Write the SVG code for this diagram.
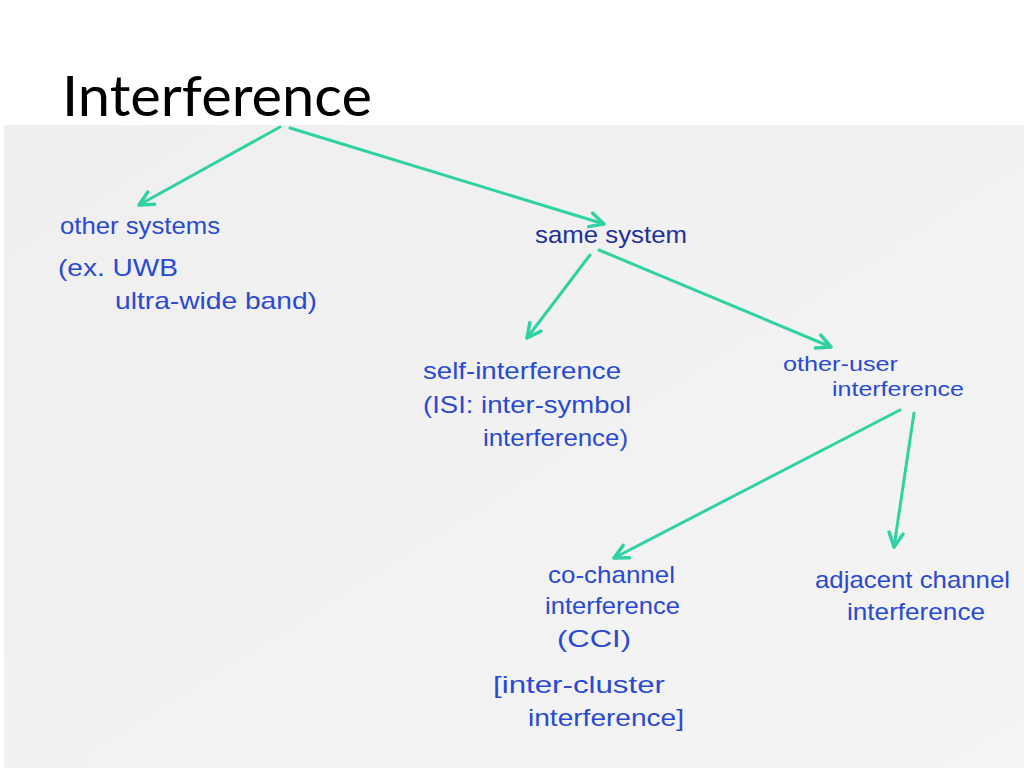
<svg xmlns="http://www.w3.org/2000/svg" width="1024" height="768" viewBox="0 0 1024 768">
<style>
.title{font-family:Lato,"Open Sans","Liberation Sans",sans-serif;font-size:56px;fill:#000}
.hw{font-family:"Liberation Sans","DejaVu Sans",sans-serif;font-size:24px;fill:#2a4ad2}
.sm{font-size:21px}
.dk{fill:#22309a}
.arr{stroke:#30d2a3;stroke-width:3;fill:none;stroke-linecap:round}
</style>
<defs>
<linearGradient id="paper" x1="0" y1="0" x2="1" y2="1">
<stop offset="0" stop-color="#efefef"/>
<stop offset="1" stop-color="#f4f4f4"/>
</linearGradient>
<marker id="ah" viewBox="0 0 20 20" refX="16" refY="10" markerWidth="20" markerHeight="20" markerUnits="userSpaceOnUse" orient="auto">
<path d="M2,3 L16,10 L2,17" fill="none" stroke="#30d2a3" stroke-width="3.5" stroke-linecap="round" stroke-linejoin="round"/>
</marker>
</defs>
<rect x="0" y="0" width="1024" height="768" fill="#ffffff"/>
<rect x="4" y="125" width="1020" height="643" fill="url(#paper)"/>
<text class="title" x="62" y="116" textLength="310" lengthAdjust="spacingAndGlyphs">Interference</text>

<g id="connectors">
<line class="arr" x1="280" y1="127" x2="139" y2="205" marker-end="url(#ah)"/>
<line class="arr" x1="290" y1="128" x2="604" y2="224" marker-end="url(#ah)"/>
<line class="arr" x1="590" y1="255" x2="527" y2="338" marker-end="url(#ah)"/>
<line class="arr" x1="599" y1="250" x2="831" y2="347" marker-end="url(#ah)"/>
<line class="arr" x1="900" y1="410" x2="614" y2="558" marker-end="url(#ah)"/>
<line class="arr" x1="914" y1="413" x2="894" y2="547" marker-end="url(#ah)"/>
</g>

<g id="other-systems">
<text class="hw" x="60" y="234" textLength="160" lengthAdjust="spacingAndGlyphs">other systems</text>
<text class="hw" x="58" y="276" textLength="120" lengthAdjust="spacingAndGlyphs">(ex. UWB</text>
<text class="hw" x="115" y="309" textLength="202" lengthAdjust="spacingAndGlyphs">ultra-wide band)</text>
</g>

<g id="same-system">
<text class="hw dk" x="535" y="243" textLength="152" lengthAdjust="spacingAndGlyphs">same system</text>
</g>

<g id="self-interference">
<text class="hw" x="423" y="379" textLength="198" lengthAdjust="spacingAndGlyphs">self-interference</text>
<text class="hw" x="423" y="413" textLength="208" lengthAdjust="spacingAndGlyphs">(ISI: inter-symbol</text>
<text class="hw" x="483" y="446" textLength="145" lengthAdjust="spacingAndGlyphs">interference)</text>
</g>

<g id="other-user-interference">
<text class="hw sm" x="783" y="371" textLength="115" lengthAdjust="spacingAndGlyphs">other-user</text>
<text class="hw sm" x="832" y="396" textLength="132" lengthAdjust="spacingAndGlyphs">interference</text>
</g>

<g id="co-channel-interference">
<text class="hw" x="548" y="583" textLength="127" lengthAdjust="spacingAndGlyphs">co-channel</text>
<text class="hw" x="545" y="614" textLength="135" lengthAdjust="spacingAndGlyphs">interference</text>
<text class="hw" x="557" y="647" textLength="74" lengthAdjust="spacingAndGlyphs">(CCI)</text>
<text class="hw" x="493" y="693" textLength="172" lengthAdjust="spacingAndGlyphs">[inter-cluster</text>
<text class="hw" x="528" y="726" textLength="156" lengthAdjust="spacingAndGlyphs">interference]</text>
</g>

<g id="adjacent-channel-interference">
<text class="hw" x="815" y="588" textLength="195" lengthAdjust="spacingAndGlyphs">adjacent channel</text>
<text class="hw" x="847" y="620" textLength="138" lengthAdjust="spacingAndGlyphs">interference</text>
</g>
</svg>
